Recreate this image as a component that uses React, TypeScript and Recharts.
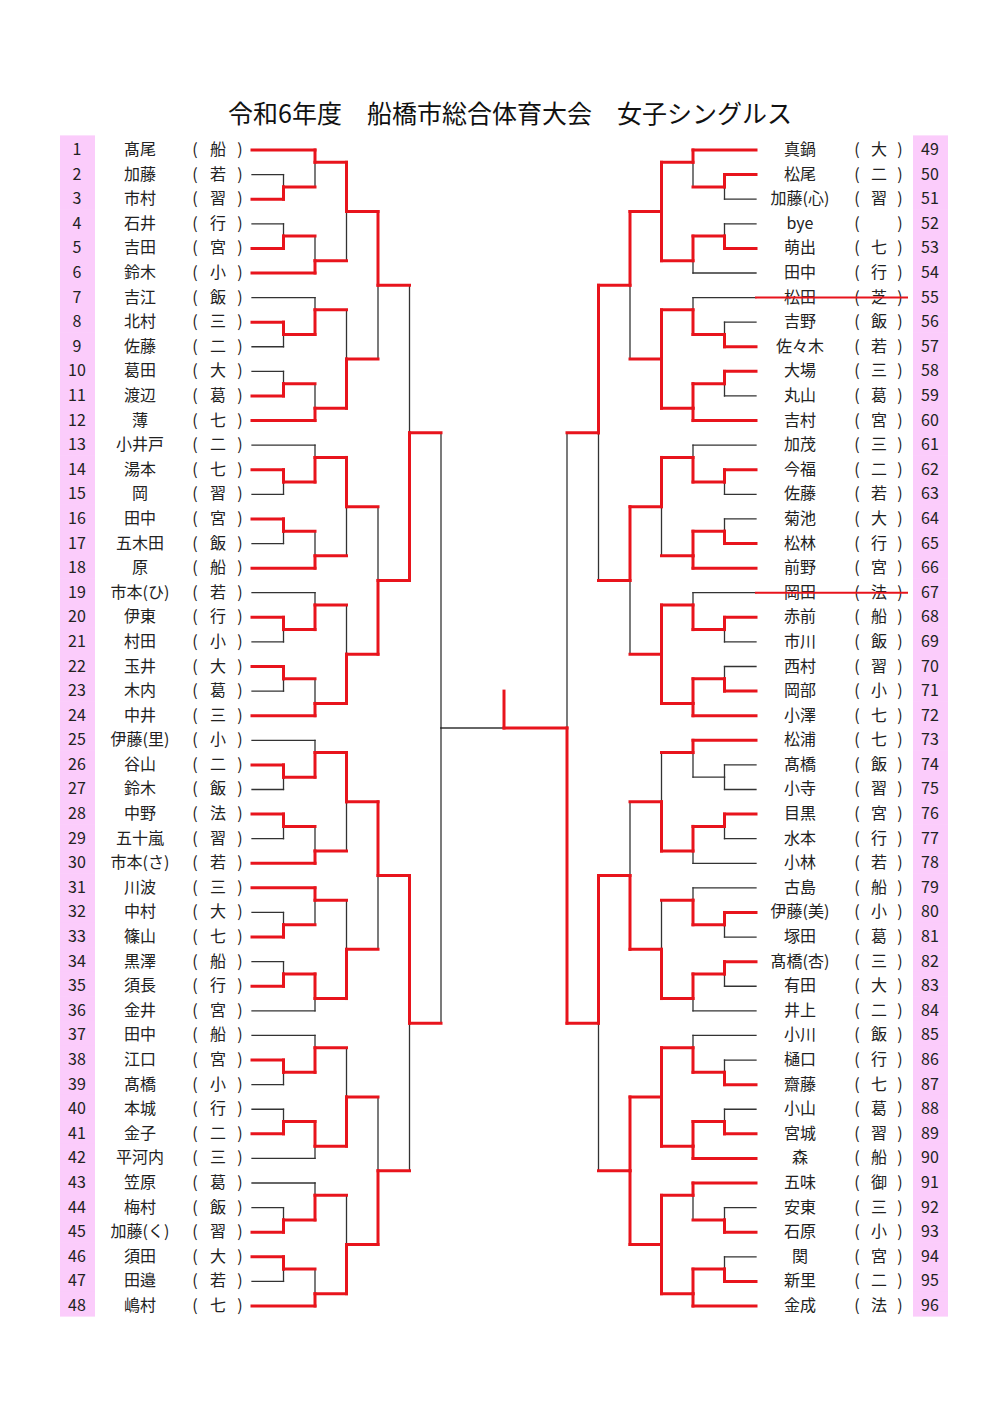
import React from 'react';
import { ComposedChart, XAxis, YAxis, ReferenceLine } from 'recharts';

const TITLE = '令和6年度　船橋市総合体育大会　女子シングルス';

// players 1-48 (left block)
const leftNames = [
  '髙尾', '加藤', '市村', '石井', '吉田', '鈴木', '吉江', '北村', '佐藤', '葛田', '渡辺', '薄',
  '小井戸', '湯本', '岡', '田中', '五木田', '原', '市本(ひ)', '伊東', '村田', '玉井', '木内', '中井',
  '伊藤(里)', '谷山', '鈴木', '中野', '五十嵐', '市本(さ)', '川波', '中村', '篠山', '黒澤', '須長', '金井',
  '田中', '江口', '髙橋', '本城', '金子', '平河内', '笠原', '梅村', '加藤(く)', '須田', '田邉', '嶋村',
];
const leftSchools = [
  '船', '若', '習', '行', '宮', '小', '飯', '三', '二', '大', '葛', '七',
  '二', '七', '習', '宮', '飯', '船', '若', '行', '小', '大', '葛', '三',
  '小', '二', '飯', '法', '習', '若', '三', '大', '七', '船', '行', '宮',
  '船', '宮', '小', '行', '二', '三', '葛', '飯', '習', '大', '若', '七',
];

// players 49-96 (right block)
const rightNames = [
  '真鍋', '松尾', '加藤(心)', 'bye', '萌出', '田中', '松田', '吉野', '佐々木', '大場', '丸山', '吉村',
  '加茂', '今福', '佐藤', '菊池', '松林', '前野', '岡田', '赤前', '市川', '西村', '岡部', '小澤',
  '松浦', '髙橋', '小寺', '目黒', '水本', '小林', '古島', '伊藤(美)', '塚田', '髙橋(杏)', '有田', '井上',
  '小川', '樋口', '齋藤', '小山', '宮城', '森', '五味', '安東', '石原', '関', '新里', '金成',
];
const rightSchools = [
  '大', '二', '習', '', '七', '行', '芝', '飯', '若', '三', '葛', '宮',
  '三', '二', '若', '大', '行', '宮', '法', '船', '飯', '習', '小', '七',
  '七', '飯', '習', '宮', '行', '若', '船', '小', '葛', '三', '大', '二',
  '飯', '行', '七', '葛', '習', '船', '御', '三', '小', '宮', '二', '法',
];
const withdrawn = [55, 67];

// match results: 0 = upper side won, 1 = lower side won,
// 2 = drawn with both halves marked, -1 = not decided
const leftR1 = [1, 1, 0, 1, 0, 0, 0, 0, 0, 0, 1, 1, 0, 1, 1, 0];
const leftR2 = [0, 1, 1, 1, 1, 1, 1, 1, 1, 1, 0, 0, 1, 0, 1, 1];
const leftR3 = [0, 1, 0, 1, 0, 1, 1, 1];
const leftR4 = [0, 1, 0, 1];
const leftR5 = [1, 0];
const leftR6 = [-1];

const rightR1 = [0, 1, 1, 0, 0, 1, 0, 1, -1, 0, 0, 0, 1, 1, 1, 1];
const rightR2 = [0, 0, 1, 2, 1, 2, 1, 2, 0, 0, 1, 0, 1, 2, 0, 2];
const rightR3 = [2, 2, 0, 2, 1, 1, 2, 2];
const rightR4 = [0, 0, 1, 2];
const rightR5 = [0, 0];
const rightR6 = [1];

const championMarkTop = 23;

const RED = '#e8141c';
const DARK = '#333333';
const PINK = '#fbccfb';
const ROW_PX = (1306 - 150) / 47;
const rows = Array.from({ length: 48 }, (_, i) => i + 1);

type Seg = { x1: number; y1: number; x2: number; y2: number; red: boolean };

const upRed = (w: number) => w === 0 || w === 2;
const downRed = (w: number) => w === 1 || w === 2;

// builds one half of the draw, columns 0 (names) .. 8 (centre)
function buildSide(r1: number[], r2: number[], later: number[][]) {
  const segs: Seg[] = [];
  const v = (x: number, y1: number, y2: number, red: boolean) => segs.push({ x1: x, y1, x2: x, y2, red });
  const h = (x1: number, x2: number, y: number, red: boolean) => segs.push({ x1, y1: y, x2, y2: y, red });

  let outs: { y: number; w: number }[] = [];
  for (let k = 0; k < 16; k++) {
    const a = 3 * k + 1;
    const pairTop = k % 2 === 1;
    const p1 = pairTop ? a : a + 1;
    const p2 = p1 + 1;
    const single = pairTop ? a + 2 : a;
    const pm = p1 + 0.5;
    const w1 = r1[k];
    h(0, 1, p1, w1 === 0);
    h(0, 1, p2, w1 === 1);
    v(1, p1, pm, upRed(w1));
    v(1, pm, p2, downRed(w1));
    h(1, 2, pm, w1 !== -1);

    const w2 = r2[k];
    const out = pairTop ? single - 0.5 : single + 0.5;
    const yU = pairTop ? pm : single;
    const yL = pairTop ? single : pm;
    h(0, 2, single, pairTop ? downRed(w2) : upRed(w2));
    v(2, yU, out, upRed(w2));
    v(2, out, yL, downRed(w2));
    outs.push({ y: out, w: w2 });
  }

  later.forEach((res, li) => {
    const col = 3 + li;
    const next: { y: number; w: number }[] = [];
    res.forEach((w, j) => {
      const A = outs[2 * j];
      const B = outs[2 * j + 1];
      const ym = (A.y + B.y) / 2;
      h(col - 1, col, A.y, A.w !== -1);
      h(col - 1, col, B.y, B.w !== -1);
      v(col, A.y, ym, upRed(w));
      v(col, ym, B.y, downRed(w));
      next.push({ y: ym, w });
    });
    outs = next;
  });

  const root = outs[0];
  h(6, 8, root.y, root.w !== -1);
  return { segs, rootY: root.y };
}

const leftSide = buildSide(leftR1, leftR2, [leftR3, leftR4, leftR5, leftR6]);
const rightSide = buildSide(rightR1, rightR2, [rightR3, rightR4, rightR5, rightR6]);

const allSegs: Seg[] = [
  ...leftSide.segs,
  ...rightSide.segs.map((s) => ({ ...s, x1: 16 - s.x1, x2: 16 - s.x2 })),
  { x1: 8, y1: championMarkTop, x2: 8, y2: rightSide.rootY, red: true },
];

const textStyle = { fontSize: 16, fill: '#222' };
const TY = -2; // text sits a touch above the bracket line

const LeftTick = (props: any) => {
  const { x, y, payload } = props;
  const i = payload.value - 1;
  const ty = y + TY;
  return (
    <g>
      <rect x={x - 192} y={y - ROW_PX / 2 - 0.3 + TY} width={35} height={ROW_PX + 0.6} fill={PINK} />
      <text x={x - 175} y={ty} textAnchor="middle" dominantBaseline="central" {...textStyle}>{i + 1}</text>
      <text x={x - 112} y={ty} textAnchor="middle" dominantBaseline="central" {...textStyle}>{leftNames[i]}</text>
      <text x={x - 57} y={ty} textAnchor="middle" dominantBaseline="central" {...textStyle}>(</text>
      <text x={x - 34} y={ty} textAnchor="middle" dominantBaseline="central" {...textStyle}>{leftSchools[i]}</text>
      <text x={x - 12} y={ty} textAnchor="middle" dominantBaseline="central" {...textStyle}>)</text>
    </g>
  );
};

const RightTick = (props: any) => {
  const { x, y, payload } = props;
  const i = payload.value - 1;
  const num = i + 49;
  const ty = y + TY;
  return (
    <g>
      <rect x={x + 157} y={y - ROW_PX / 2 - 0.3 + TY} width={35} height={ROW_PX + 0.6} fill={PINK} />
      <text x={x + 174} y={ty} textAnchor="middle" dominantBaseline="central" {...textStyle}>{num}</text>
      <text x={x + 44} y={ty} textAnchor="middle" dominantBaseline="central" {...textStyle}>{rightNames[i]}</text>
      <text x={x + 101} y={ty} textAnchor="middle" dominantBaseline="central" {...textStyle}>(</text>
      <text x={x + 123} y={ty} textAnchor="middle" dominantBaseline="central" {...textStyle}>{rightSchools[i]}</text>
      <text x={x + 144} y={ty} textAnchor="middle" dominantBaseline="central" {...textStyle}>)</text>
      {withdrawn.includes(num) && (
        <line x1={x - 1} y1={y} x2={x + 152} y2={y} stroke={RED} strokeWidth={2} />
      )}
    </g>
  );
};

export default function App() {
  return (
    <div style={{ position: 'relative', width: 1000, height: 1414, background: '#fff', fontFamily: "'Noto Sans CJK JP', sans-serif" }}>
      <style>{'body{margin:0}'}</style>
      <div style={{ position: 'absolute', top: 98, left: 10, width: 1000, textAlign: 'center', fontSize: 25, lineHeight: '28px', color: '#111' }}>
        {TITLE}
      </div>
      <ComposedChart width={1000} height={1414} margin={{ top: 150, right: 0, bottom: 108, left: 0 }}>
        <XAxis type="number" dataKey="x" domain={[0, 16]} hide allowDataOverflow />
        <YAxis
          yAxisId="L"
          orientation="left"
          type="number"
          domain={[1, 48]}
          reversed
          width={252}
          ticks={rows}
          interval={0}
          tick={<LeftTick />}
          tickLine={false}
          axisLine={false}
          tickSize={0}
          tickMargin={0}
          allowDataOverflow
        />
        <YAxis
          yAxisId="R"
          orientation="right"
          type="number"
          domain={[1, 48]}
          reversed
          width={244}
          ticks={rows}
          interval={0}
          tick={<RightTick />}
          tickLine={false}
          axisLine={false}
          tickSize={0}
          tickMargin={0}
          allowDataOverflow
        />
        {allSegs.filter((s) => !s.red).map((s, i) => (
          <ReferenceLine
            key={'b' + i}
            yAxisId="L"
            ifOverflow="visible"
            segment={[{ x: s.x1, y: s.y1 }, { x: s.x2, y: s.y2 }]}
            stroke={DARK}
            strokeWidth={1.3}
            strokeLinecap="square"
          />
        ))}
        {allSegs.filter((s) => s.red).map((s, i) => (
          <ReferenceLine
            key={'r' + i}
            yAxisId="L"
            ifOverflow="visible"
            segment={[{ x: s.x1, y: s.y1 }, { x: s.x2, y: s.y2 }]}
            stroke={RED}
            strokeWidth={3}
            strokeLinecap="square"
          />
        ))}
      </ComposedChart>
    </div>
  );
}
